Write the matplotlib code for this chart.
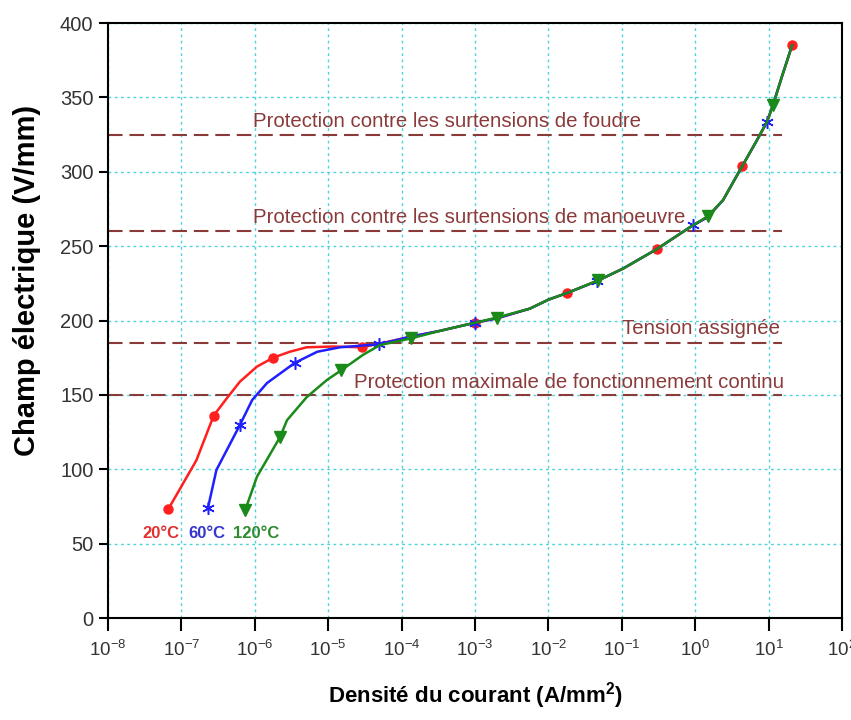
import matplotlib
matplotlib.use('Agg')
import matplotlib.pyplot as plt
from matplotlib import font_manager
from matplotlib.ticker import LogLocator, NullLocator, MultipleLocator

# Caracteristique E(J) de la varistance a 3 temperatures
j_20 = [6.6e-8, 1.6e-7, 2.75e-7, 4.2e-7, 6.3e-7, 1.07e-6, 1.78e-6, 3.0e-6, 5.1e-6, 1.17e-5,
        2.9e-5, 5.6e-5, 1.29e-4, 3.3e-4, 1.0e-3, 2.0e-3, 5.6e-3, 1.0e-2, 1.8e-2, 4.8e-2, 0.105,
        0.30, 0.93, 1.48, 2.4, 4.4, 6.9, 9.5, 11.5, 15.2, 20.9]
e_20 = [73, 106, 136, 148, 159, 169, 175, 179, 182, 182.5,
        182, 185, 189, 193, 198.5, 201.5, 208, 214, 218.5, 227, 235,
        248, 264, 269.5, 281, 304, 321, 333.5, 345, 364, 385]
pts_20 = [0, 2, 6, 10, 14, 18, 21, 25, 30]

j_60 = [2.3e-7, 3.0e-7, 6.3e-7, 9.2e-7, 1.47e-6, 3.5e-6, 7.1e-6, 1.45e-5, 2.7e-5, 4.9e-5,
        1.29e-4, 3.3e-4, 1.0e-3, 2.0e-3, 5.6e-3, 1.0e-2, 1.8e-2, 4.6e-2, 0.105, 0.30, 0.93,
        1.48, 2.4, 4.4, 6.9, 9.5, 11.5, 15.2, 20.9]
e_60 = [74, 99.5, 130, 146.5, 158, 171.5, 179, 182, 183, 184,
        189, 193, 198.5, 201.5, 208, 214, 218.5, 226.5, 235, 248, 264,
        269.5, 281, 304, 321, 333.5, 345, 364, 385]
pts_60 = [0, 2, 5, 9, 12, 17, 20, 25]

j_120 = [7.4e-7, 1.07e-6, 2.2e-6, 2.75e-6, 5.1e-6, 9.6e-6, 1.5e-5, 3.0e-5, 5.1e-5, 1.35e-4,
         3.3e-4, 1.0e-3, 2.0e-3, 5.6e-3, 1.0e-2, 1.8e-2, 4.8e-2, 0.105, 0.30, 0.93, 1.48,
         2.4, 4.4, 6.9, 9.5, 11.5, 15.2, 20.9]
e_120 = [72.5, 95, 121.5, 133, 148.5, 160, 166.5, 177, 183.5, 188,
         193, 198.5, 202, 208, 214, 218.5, 227, 235, 248, 264, 270,
         281, 304, 321, 333.5, 345, 364, 385]
pts_120 = [0, 2, 6, 9, 12, 16, 20, 25]

temperatures = ['20°C', '60°C', '120°C']

# niveaux de protection (V/mm)
niveaux = [325, 260, 185, 150]
noms_niveaux = ['Protection contre les surtensions de foudre',
                'Protection contre les surtensions de manoeuvre',
                'Tension assignée',
                'Protection maximale de fonctionnement continu']

plt.rcParams['font.family'] = ['Liberation Sans', 'DejaVu Sans']
plt.rcParams['mathtext.default'] = 'regular'

noms_polices = {f.name for f in font_manager.fontManager.ttflist}
if 'Liberation Sans Narrow' in noms_polices:
    police_temp, taille_temp = 'Liberation Sans Narrow', 14
else:
    police_temp, taille_temp = 'Liberation Sans', 12

fig = plt.figure(figsize=(8.51, 7.2), dpi=100)
ax = fig.add_axes([108 / 851, 102 / 720, 734 / 851, 595 / 720])
ax.set_xscale('log')
ax.set_xlim(1e-8, 1e2)
ax.set_ylim(0, 400)

ax.grid(True, which='major', color='#4fd3da', linestyle=(0, (2, 2.5)), linewidth=1.0)
ax.set_axisbelow(True)

marron = '#8b3a3a'
for n in niveaux:
    ax.hlines(n, 1e-8, 15, colors=marron, linestyles=(0, (7, 3.3)), linewidth=1.5, zorder=2)

ax.text(9.6e-7, 334, noms_niveaux[0], color=marron, fontsize=14.7, ha='left', va='center')
ax.text(9.6e-7, 269, noms_niveaux[1], color=marron, fontsize=14.7, ha='left', va='center')
ax.text(14.3, 194.5, noms_niveaux[2], color=marron, fontsize=14.7, ha='right', va='center')
ax.text(16, 158, noms_niveaux[3], color=marron, fontsize=14.7, ha='right', va='center')

ax.plot(j_20, e_20, color='#ff1f1f', lw=1.8, marker='o', ms=6.5, markevery=pts_20, zorder=3)
ax.plot(j_60, e_60, color='#1f1fff', lw=1.8, marker=(6, 2, 0), ms=9, mew=1.1,
        markevery=pts_60, zorder=3)
ax.plot(j_120, e_120, color='#1a8a1a', lw=1.8, marker='v', ms=8, markevery=pts_120, zorder=3)

ax.text(5.2e-8, 57, temperatures[0], color='#e03030', fontsize=taille_temp,
        family=police_temp, fontweight='bold', ha='center', va='center')
ax.text(2.2e-7, 57, temperatures[1], color='#3535d0', fontsize=taille_temp,
        family=police_temp, fontweight='bold', ha='center', va='center')
ax.text(1.05e-6, 57, temperatures[2], color='#2e8b2e', fontsize=taille_temp,
        family=police_temp, fontweight='bold', ha='center', va='center')

ax.xaxis.set_major_locator(LogLocator(base=10, numticks=20))
ax.xaxis.set_minor_locator(NullLocator())
ax.yaxis.set_major_locator(MultipleLocator(50))

for s in ax.spines.values():
    s.set_linewidth(1.5)
ax.tick_params(axis='y', direction='out', length=6.5, width=1.5, pad=4,
               labelsize=14.5, labelcolor='#333333')
ax.tick_params(axis='x', direction='out', length=9, width=1.5, pad=7,
               labelsize=13.5, labelcolor='#333333')

ax.set_ylabel('Champ électrique (V/mm)', fontsize=21, fontweight='bold')
ax.yaxis.set_label_coords(-0.091, 0.568)
ax.set_xlabel('Densité du courant (A/mm$^2$)', fontsize=16, fontweight='bold')
ax.xaxis.set_label_coords(0.501, -0.104)
ax.xaxis.label.set_verticalalignment('top')

plt.savefig('out.png', dpi=100)
